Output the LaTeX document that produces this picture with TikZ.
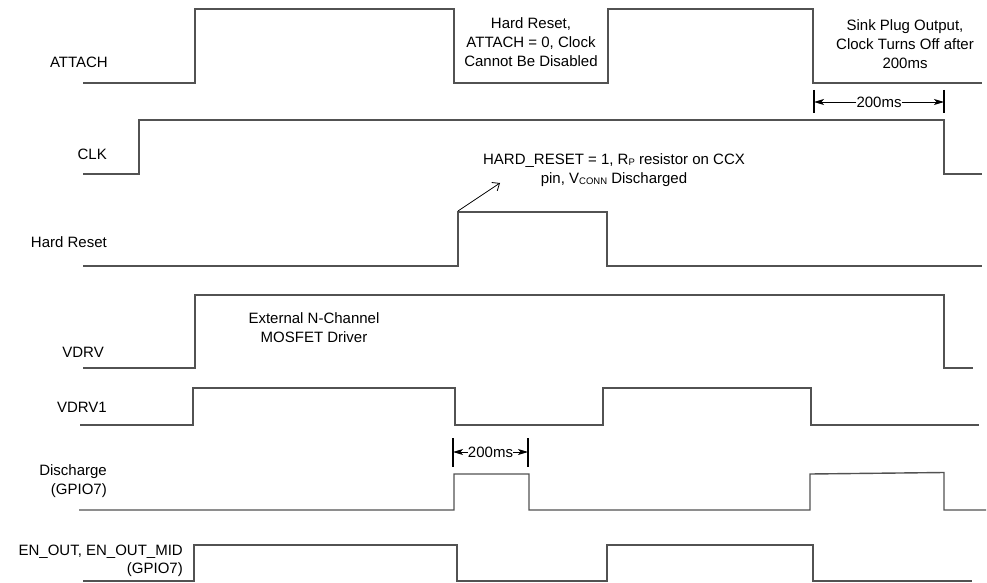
\documentclass[tikz,border=0pt]{standalone}
\usepackage{fontspec}
\setmainfont{Liberation Sans}
\usetikzlibrary{arrows.meta}
\newcommand{\smallsub}[1]{\raisebox{-1.6pt}{\fontsize{9.5}{9.5}\selectfont #1}}
\tikzset{
  wave/.style={draw=black!68, line width=1.4pt, line join=miter},
  lbl/.style={anchor=east, inner sep=0pt, font=\fontsize{15}{18.5}\selectfont, align=right},
  note/.style={inner sep=0pt, font=\fontsize{15}{19}\selectfont, align=center},
  bar/.style={draw=black, line width=1.8pt},
  dim/.style={draw=black, line width=0.9pt, -{Stealth[length=10pt,width=6pt,inset=2.5pt]}},
  callout/.style={draw=black, line width=0.8pt, -{Straight Barb[length=6pt,width=10pt]}}
}
\begin{document}
\begin{tikzpicture}[x=1pt,y=-1pt]
\useasboundingbox (0,0) rectangle (987,583);

% labels
\node[lbl] (lattach) at (108,62) {ATTACH};
\node[lbl] (lclk) at (107,154) {CLK};
\node[lbl] (lhr) at (107,242) {Hard Reset};
\node[lbl] (lvdrv) at (104,352) {VDRV};
\node[lbl] (lvdrv1) at (107,407) {VDRV1};
\node[lbl] (ldis) at (107,481) {Discharge\\(GPIO7)};
\node[lbl] (len) at (183,561) {EN\_OUT, EN\_OUT\_MID\\(GPIO7)};

% waveforms
\draw[wave] (83,83) -- (195,83) -- (195,9) -- (454,9) -- (454,83) -- (608,83) -- (608,9) -- (813,9) -- (813,83) -- (982,83);
\draw[wave] (83,174) -- (139,174) -- (139,120) -- (944,120) -- (944,174) -- (982,174);
\draw[wave] (83,266) -- (458,266) -- (458,212) -- (607,212) -- (607,266) -- (982,266);
\draw[wave] (83,368) -- (195,368) -- (195,295) -- (944,295) -- (944,368) -- (973,368);
\draw[wave] (80,425) -- (193,425) -- (193,388) -- (455,388) -- (455,425) -- (603,425) -- (603,388) -- (811,388) -- (811,425) -- (979,425);
\draw[wave] (79,510) -- (454,510) -- (454,474) -- (529,474) -- (529,510) -- (810,510) -- (810,474) -- (944,472.5) -- (944,510) -- (986,510);
\draw[wave] (83,581) -- (194,581) -- (194,545) -- (457,545) -- (457,581) -- (607,581) -- (607,545) -- (813,545) -- (813,581) -- (972,581);

% notes
\node[note] (nhr) at (531,42) {Hard Reset,\\ATTACH = 0, Clock\\Cannot Be Disabled};
\node[note] (nsink) at (905,44) {Sink Plug Output,\\Clock Turns Off after\\200ms};
\node[note] (nhard) at (614,170) {HARD\_RESET = 1, R\smallsub{P} resistor on CCX\\pin, V\smallsub{CONN} Discharged};
\node[note] (next) at (314,328) {External N-Channel\\MOSFET Driver};

% callout arrow
\coordinate (hrrise) at (458,211);
\coordinate (hrtip) at (500,183);
\draw[callout] (hrrise) -- (hrtip);

% top 200ms dimension
\coordinate (ta1) at (814,90);
\coordinate (ta2) at (814,113);
\coordinate (tb1) at (944,90);
\coordinate (tb2) at (944,113);
\coordinate (tal) at (814,102);
\coordinate (tbl) at (944,102);
\draw[bar] (ta1) -- (ta2);
\draw[bar] (tb1) -- (tb2);
\node[inner sep=0pt, font=\fontsize{15}{18}\selectfont] (t200) at (879,102) {200ms};
\draw[dim] (t200.west) -- (tal);
\draw[dim] (t200.east) -- (tbl);

% bottom 200ms dimension
\coordinate (ba1) at (453,438);
\coordinate (ba2) at (453,467);
\coordinate (bb1) at (528,438);
\coordinate (bb2) at (528,467);
\coordinate (bal) at (453,452);
\coordinate (bbl) at (528,452);
\draw[bar] (ba1) -- (ba2);
\draw[bar] (bb1) -- (bb2);
\node[inner sep=0pt, font=\fontsize{15}{18}\selectfont] (b200) at (490.5,452) {200ms};
\draw[dim] (b200.west) -- (bal);
\draw[dim] (b200.east) -- (bbl);
\end{tikzpicture}
\end{document}
